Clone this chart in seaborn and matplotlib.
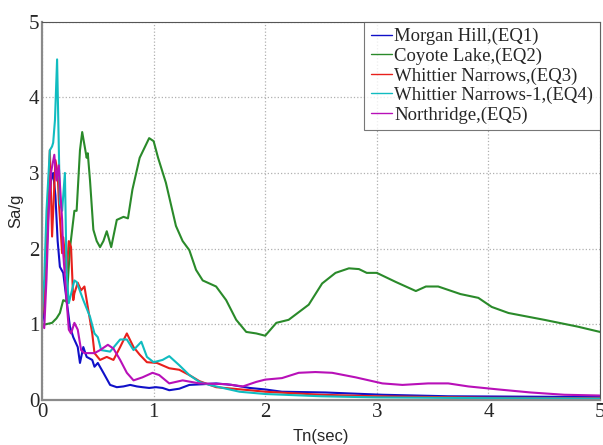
import numpy as np
import pandas as pd
import matplotlib
matplotlib.use('Agg')
import matplotlib.pyplot as plt
import seaborn as sns

# spectral acceleration, one list pair per record
t_eq1 = [0, 0.02, 0.04, 0.06, 0.08, 0.10, 0.12, 0.14, 0.16, 0.19, 0.22, 0.25, 0.28, 0.32, 0.34, 0.37,
         0.40, 0.45, 0.47, 0.50, 0.55, 0.61, 0.67, 0.73, 0.79, 0.85, 0.90, 0.96, 1.02, 1.08, 1.14, 1.23,
         1.32, 1.45, 1.56, 1.70, 1.86, 2.0, 2.15, 2.54, 3.05, 3.64, 4.3, 5.0]
sa_eq1 = [1.0, 1.2, 1.9, 2.6, 2.9, 3.0, 2.7, 2.1, 1.76, 1.68, 1.32, 0.97, 0.83, 0.70, 0.49, 0.70,
          0.57, 0.53, 0.44, 0.49, 0.36, 0.20, 0.17, 0.18, 0.20, 0.18, 0.17, 0.16, 0.17, 0.16, 0.13, 0.15,
          0.20, 0.21, 0.22, 0.20, 0.16, 0.14, 0.11, 0.10, 0.07, 0.05, 0.045, 0.04]

t_eq2 = [0, 0.03, 0.09, 0.13, 0.16, 0.19, 0.22, 0.25, 0.29, 0.31, 0.34, 0.36, 0.40, 0.41, 0.43, 0.46,
         0.49, 0.52, 0.55, 0.58, 0.62, 0.67, 0.73, 0.77, 0.81, 0.875, 0.96, 1.0, 1.04, 1.11, 1.2, 1.26,
         1.32, 1.38, 1.44, 1.56, 1.65, 1.74, 1.83, 1.92, 2.0, 2.1, 2.21, 2.39, 2.51, 2.63, 2.75, 2.84,
         2.91, 3.0, 3.17, 3.35, 3.44, 3.55, 3.75, 3.91, 4.03, 4.18, 4.5, 4.8, 5.0]
sa_eq2 = [1.0, 1.0, 1.02, 1.08, 1.15, 1.32, 1.3, 2.0, 2.5, 2.5, 3.3, 3.54, 3.2, 3.26, 2.9, 2.25,
          2.1, 2.02, 2.1, 2.23, 2.02, 2.38, 2.42, 2.4, 2.78, 3.2, 3.46, 3.42, 3.2, 2.87, 2.3, 2.1,
          1.98, 1.72, 1.58, 1.5, 1.32, 1.06, 0.9, 0.88, 0.85, 1.02, 1.06, 1.26, 1.54, 1.68, 1.74, 1.73,
          1.68, 1.68, 1.56, 1.44, 1.5, 1.5, 1.4, 1.35, 1.23, 1.15, 1.06, 0.97, 0.9]

t_eq3 = [0, 0.03, 0.05, 0.07, 0.09, 0.12, 0.14, 0.15, 0.18, 0.19, 0.22, 0.24, 0.26, 0.28, 0.29, 0.32,
         0.35, 0.38, 0.41, 0.45, 0.47, 0.52, 0.58, 0.64, 0.70, 0.76, 0.82, 0.875, 0.94, 1.03, 1.14, 1.23,
         1.32, 1.41, 1.56, 1.86, 2.0, 2.5, 3.0, 4.0, 5.0]
sa_eq3 = [1.1, 1.5, 2.4, 3.3, 2.16, 3.17, 3.0, 2.64, 1.94, 2.15, 1.68, 2.1, 2.02, 1.32, 1.41, 1.55,
          1.45, 1.5, 1.23, 0.88, 0.62, 0.53, 0.57, 0.53, 0.70, 0.88, 0.70, 0.60, 0.50, 0.49, 0.42, 0.40,
          0.33, 0.25, 0.17, 0.13, 0.11, 0.07, 0.05, 0.03, 0.025]

t_eq4 = [0, 0.02, 0.04, 0.07, 0.09, 0.10, 0.116, 0.135, 0.16, 0.18, 0.205, 0.22, 0.24, 0.29, 0.31, 0.37,
         0.43, 0.47, 0.50, 0.53, 0.61, 0.70, 0.76, 0.82, 0.89, 0.94, 1.0, 1.08, 1.14, 1.23, 1.32, 1.41,
         1.5, 1.77, 2.0, 2.5, 3.0, 4.0, 5.0]
sa_eq4 = [1.15, 1.6, 2.5, 3.3, 3.35, 3.4, 3.7, 4.5, 2.6, 2.5, 3.0, 1.68, 1.28, 1.58, 1.56, 1.32,
          1.1, 0.88, 0.83, 0.66, 0.64, 0.8, 0.8, 0.66, 0.77, 0.57, 0.5, 0.53, 0.58, 0.46, 0.33, 0.24,
          0.2, 0.11, 0.08, 0.05, 0.035, 0.025, 0.02]

t_eq5 = [0, 0.02, 0.04, 0.06, 0.08, 0.11, 0.13, 0.15, 0.18, 0.19, 0.22, 0.24, 0.26, 0.29, 0.32, 0.35,
         0.38, 0.43, 0.47, 0.52, 0.59, 0.64, 0.70, 0.76, 0.82, 0.90, 0.99, 1.05, 1.14, 1.26, 1.41, 1.65,
         1.8, 1.92, 2.0, 2.15, 2.3, 2.45, 2.6, 2.81, 3.05, 3.23, 3.46, 3.64, 3.82, 4.09, 4.38, 4.68, 5.0]
sa_eq5 = [1.0, 0.95, 1.6, 2.5, 3.0, 3.24, 2.9, 3.1, 2.38, 1.94, 1.32, 0.93, 0.88, 1.02, 0.93, 0.66,
          0.62, 0.62, 0.62, 0.66, 0.73, 0.68, 0.53, 0.36, 0.26, 0.30, 0.36, 0.33, 0.22, 0.26, 0.22, 0.21,
          0.18, 0.24, 0.27, 0.29, 0.36, 0.37, 0.36, 0.30, 0.22, 0.20, 0.22, 0.22, 0.18, 0.14, 0.10, 0.07, 0.06]

labels = ['Morgan Hill,(EQ1)', 'Coyote Lake,(EQ2)', 'Whittier Narrows,(EQ3)',
          'Whittier Narrows-1,(EQ4)', 'Northridge,(EQ5)']
colors = ['#1010c8', '#2a8a2a', '#e8201c', '#10bcc0', '#b810b8']

# tidy frame for seaborn
frames = []
for lab, t, sa in zip(labels, [t_eq1, t_eq2, t_eq3, t_eq4, t_eq5],
                      [sa_eq1, sa_eq2, sa_eq3, sa_eq4, sa_eq5]):
    frames.append(pd.DataFrame({'Tn': t, 'Sa': sa, 'record': lab}))
df = pd.concat(frames, ignore_index=True)

sns.set_style('white')
plt.rcParams['font.family'] = ['Liberation Serif', 'DejaVu Serif']

fig = plt.figure(figsize=(6.03, 4.45), dpi=100)
ax = fig.add_axes([0.0697, 0.101, 0.9253, 0.8506])

sns.lineplot(data=df, x='Tn', y='Sa', hue='record', hue_order=labels,
             palette=dict(zip(labels, colors)), estimator=None, sort=False,
             linewidth=1.5, legend=False, ax=ax)

ax.set_xlim(0, 5)
ax.set_ylim(0, 5)
ax.set_xticks(range(6))
ax.set_yticks(range(6))
ax.tick_params(direction='in', length=4, color='#888888', labelsize=15, pad=2)
ax.grid(True, linestyle=':', color='#b0b0b0', linewidth=0.9)
for side in ['left', 'bottom']:
    ax.spines[side].set_color('#8a8a8a')
    ax.spines[side].set_linewidth(1.6)
for side in ['top', 'right']:
    ax.spines[side].set_color('#555555')
    ax.spines[side].set_linewidth(0.8)

sans = ['Liberation Sans Narrow', 'Liberation Sans', 'DejaVu Sans']
ax.set_xlabel('Tn(sec)', family=sans, fontsize=12, labelpad=5)
ax.set_ylabel('Sa/g', family=sans, fontsize=12, labelpad=4)

handles = [plt.Line2D([], [], color=c, linewidth=1.0) for c in colors]
leg = ax.legend(handles, labels, loc='upper right', borderaxespad=0, fontsize=13.5,
                handlelength=1.1, handletextpad=0.15, labelspacing=0.12,
                borderpad=0.35, frameon=True, fancybox=False)
leg.get_frame().set_edgecolor('#555555')
leg.get_frame().set_linewidth(0.8)

fig.savefig('out.png', dpi=100)
